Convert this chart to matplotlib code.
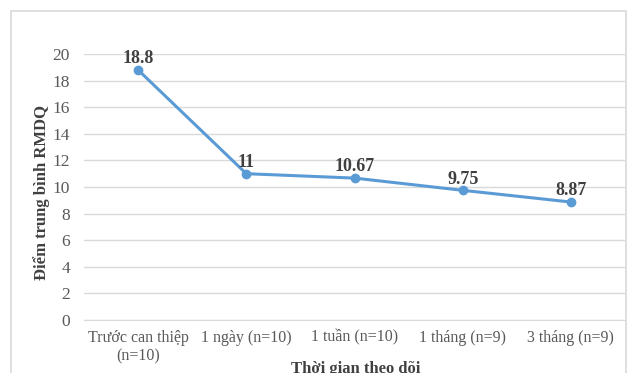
import matplotlib.pyplot as plt
from matplotlib.patches import Rectangle

plt.rcParams['font.family'] = ['Liberation Serif', 'DejaVu Serif']

# data
categories = ['Trước can thiệp\n(n=10)', '1 ngày (n=10)', '1 tuần (n=10)', '1 tháng (n=9)', '3 tháng (n=9)']
scores = [18.8, 11, 10.67, 9.75, 8.87]
score_labels = ['18.8', '11', '10.67', '9.75', '8.87']
y_ticks = [0, 2, 4, 6, 8, 10, 12, 14, 16, 18, 20]

fig = plt.figure(figsize=(6.27, 3.73), dpi=100)
ax = fig.add_axes([84/627, 1 - 320/373, 541/627, 266/373])

# chart frame (bottom edge is outside the image)
fig.patches.append(Rectangle((11/627, -0.1), 615/627, 1.1 - 11/373, transform=fig.transFigure,
                             fill=False, edgecolor='#d9d9d9', linewidth=1.2))

x = list(range(len(categories)))
ax.plot(x, scores, color='#5B9BD5', linewidth=2.2, marker='o', markersize=6, zorder=3)
for xi, yi, lab in zip(x, scores, score_labels):
    ax.annotate(lab, (xi, yi), xytext=(0, 2), textcoords='offset points', ha='center', va='bottom',
                fontsize=13, fontweight='bold', color='#404040')

ax.set_xlim(-0.5, len(categories) - 0.5)
ax.set_ylim(0, 20)
ax.set_yticks(y_ticks)
ax.set_xticks(x)
ax.set_xticklabels(categories, fontsize=11.5, color='#595959')
ax.tick_params(axis='y', labelsize=12.5, labelcolor='#595959', length=0, pad=10)
ax.tick_params(axis='x', length=0, pad=7)
ax.grid(axis='y', color='#d9d9d9', linewidth=1)
ax.set_axisbelow(True)
for s in ['top', 'right', 'left']:
    ax.spines[s].set_visible(False)
ax.spines['bottom'].set_color('#d9d9d9')

ax.set_ylabel('Điểm trung bình RMDQ', fontsize=12, fontweight='bold', color='#404040')
ax.yaxis.set_label_coords(-0.062, 0.48)
fig.text(356/627, 1 - 369/373, 'Thời gian theo dõi', ha='center', va='center',
         fontsize=12, fontweight='bold', color='#404040')

fig.savefig('out.png', dpi=100)
